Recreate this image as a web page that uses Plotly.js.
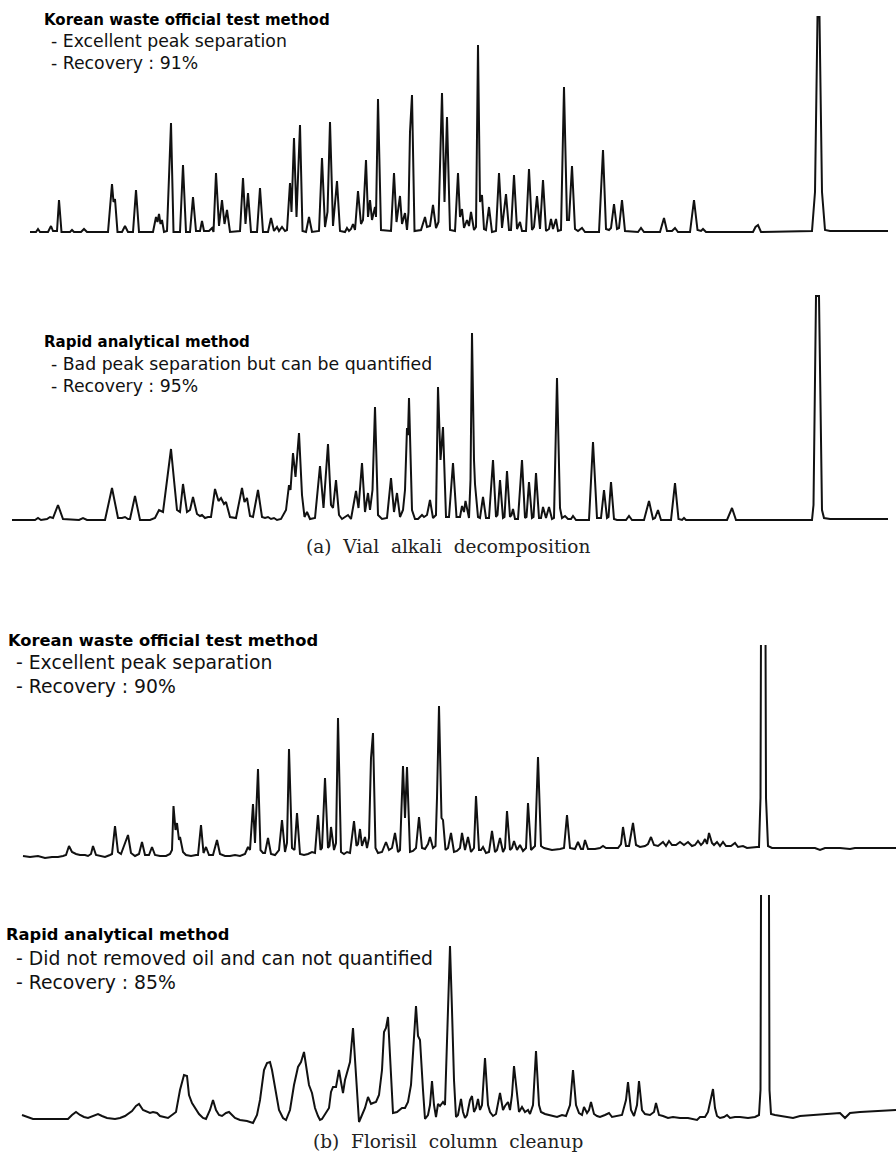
<!DOCTYPE html>
<html>
<head>
<meta charset="utf-8">
<script src="https://cdn.plot.ly/plotly-3.0.1.min.js"></script>
<style>html,body{margin:0;padding:0;background:#fff;}#chart{width:896px;height:1168px;}</style>
</head>
<body>
<div id="chart"></div>
<script>
// ---- (a) Vial alkali decomposition : Korean waste official test method ----
const rtA1 = [
  30,36,38,40,48,51,53,57,59,61.5,
  70,72,74,81,84,87,108,112,113.5,115,
  117.5,122,125,128,133,136,139,153,156,157.5,
  159,160.5,162,164,167,169.5,171,173.5,180,183,
  186,190,193,196,200,202,204,209,212,213.5,
  216,219,222,224.5,227,230,240,243,245.5,248,
  251,257,260,263,268,271,274,277,279,282,
  285,287,290,291.5,294,296.5,300,302.5,306,309,
  312,319,322,325,327.5,330,333,337,340,345,
  347,349,351,353,355,358,361,363,366,368,
  370,372,375,376,378,381,391,394,396.5,400,
  402,405,407,408.5,410,412,414.5,421,425,427,
  430,433,436,438.5,442,444.5,447,450,455,458,
  460,462,464,467,469,471,474,476,478,480,
  482,484,486,489,492,496,499,502,506,509,
  511,514,517,520,522,526,529,532,534,537,
  540,543,546,549,551,553,556,558,561,564,
  567,569,572,575,578,582,585,599,603,606,
  609,611,614,617,619,622,625,638,641,644,
  660,664,667,672,675,678,690,694,697.5,701,
  703,706,753,755.5,758,761,812,815,816.5,817.5,
  819.5,820.5,822,825,830,888
];
const sigA1 = [
  0,0,3,0,0,6,1,1,32,0,
  0,2,0,0,3,0,0,48,30,33,
  0,0,6,0,0,42,0,0,15,10,
  18,8,12,0,1,78,109,0,0,67,
  0,0,35,1,1,11,1,1,4,0,
  59,6,32,8,22,0,1,54,8,39,
  0,0,44,0,0,14,1,5,1,5,
  1,2,49,20,94,15,107,1,0,15,
  0,1,74,5,20,110,6,51,1,0,
  4,1,3,8,2,41,8,12,72,15,
  32,12,25,15,133,2,1,59,10,36,
  8,19,2,20,100,137,1,2,15,5,
  6,27,4,10,139,30,115,2,1,59,
  15,23,4,12,6,20,2,5,187,30,
  37,3,2,25,0,1,59,4,38,2,
  2,57,3,10,1,1,63,2,5,36,
  3,52,1,3,13,3,13,1,2,145,
  12,12,66,3,1,4,0,0,82,3,
  2,4,28,3,4,32,1,0,4,0,
  0,14,1,1,4,0,0,32,2,1,
  3,0,0,5,7,0,1,40,140,215,
  215,140,40,2,1,1
];

// ---- (a) Vial alkali decomposition : Rapid analytical method ----
const rtA2 = [
  12,35,38,41,47,50,53,58,63,79,
  83,87,105,112,118,122,125,128,130,135,
  140,150,155,159,163,167,171,174,177,180,
  183,187,190,193,197,200,202,205,208,211,
  215,218.5,221,224,226,230,236,242,244.5,247,
  250,253,258,262,265,268,271,274,277,281,
  286,289,290.5,293,295.5,299,302,304.5,307,310,
  315,320,323.5,328,331,333,336,339,342,345,
  348,351,356,358.5,362,365,368,370,372.5,375,
  378,382,387,391,394,397,400,403,405,407,
  408,409,412,415,418,422,424,427,430,433,
  436,438,440.5,443,446,449,453,456.5,460,462,
  464,465.5,469,470.5,472,474,475,478,480,483,
  486,489,493,496,497.5,500,503,504.5,507,510,
  511.5,513,515,518,522,525,526.5,529,532,533.5,
  536,539,541,543,546,549,552,554,557,560,
  562,565,568,571,573,576,589,593,597,601,
  604,607,608.5,611,614,617,626,629,632,644,
  649,653,655,658,661,671,675,678.5,682,684,
  686,727,732,736,812,813.5,816,819,820.5,822,
  824,830,888
];
const sigA2 = [
  0,0,2,0,1,3,2,15,1,0,
  2,0,0,32,2,2,3,1,1,24,
  0,0,2,10,8,40,71,40,10,8,
  36,8,10,23,6,4,5,2,3,3,
  31,19,22,16,18,3,2,32,18,22,
  4,3,30,3,2,3,1,2,0,1,
  10,35,30,67,43,87,25,3,8,1,
  2,54,12,76,15,12,40,5,1,3,
  5,1,29,12,57,8,27,10,30,113,
  5,1,2,42,8,27,3,10,30,92,
  85,122,10,1,1,5,3,5,20,2,
  5,133,60,93,3,3,57,3,3,14,
  8,19,2,40,187,60,36,3,2,23,
  2,2,60,3,5,40,2,3,49,3,
  5,11,1,1,60,2,3,38,2,3,
  47,2,2,13,2,13,1,2,142,12,
  2,4,1,1,4,0,0,78,2,2,
  30,2,3,38,1,0,0,4,0,0,
  19,1,2,10,0,0,37,1,0,2,
  0,0,12,0,0,15,224,224,100,10,
  2,1,1
];

// ---- (b) Florisil column cleanup : Korean waste official test method ----
const rtB1 = [
  23,30,38,45,52,58,63,66,69,72,
  76,80,85,88,91,93,96,100,105,110,
  112,115,118,121,125,128,131,135,139,142,
  145,149,152,155,160,166,170,172,173.5,175.5,
  177,179,180,183,186,191,196,198,201,203.5,
  206,209,213,217,220,225,230,235,240,245,
  248,250,253,255,258,260.5,263,265,268,271,
  275,279,282,285,287,289,292,294.5,297,300,
  304,308,312,315,318,320.5,322,325,328,329.5,
  331,334,336,338,341,344,347,350,354,356.5,
  358,360,362,365,367,369,371,373,375.5,378,
  382,386,389,392,395,398,400,403,405,407,
  410,413,416,419,422,425,428,430,433,435.5,
  437,439,441.5,443,445.5,448,451,454,457,460,
  462,465,468,471,474,476,479,481,483,486,
  489,492,495,497,500,503,505,507,510,512,
  514,517,520,523,526,528,531,533.5,535,538,
  541,544,552,560,564,567,570,575,578,581,
  583,585,588,595,600,603,606,612,618,621,
  623,626,629,633,636,640,645,648,651,654,
  658,663,666,669,672,676,680,684,688,692,
  695,698,701,703,705,707,709,712,714,717,
  720,723,726,731,735,738,743,747,753,757,
  759,760.5,761.5,765,766,768,772,780,800,815,
  820,825,840,850,855,870,896
];
const sigB1 = [
  2,1,2,0,1,1,2,3,12,6,
  4,3,3,2,4,12,3,2,1,3,
  4,32,6,4,14,23,5,2,4,16,
  3,3,11,3,2,2,4,8,52,28,
  35,18,21,6,3,2,3,3,33,5,
  11,3,3,18,4,2,2,3,2,4,
  11,8,54,15,89,8,5,5,20,4,
  3,8,38,6,15,109,10,8,45,4,
  3,4,6,5,43,8,10,80,10,12,
  31,8,15,140,6,4,6,5,37,12,
  14,29,12,21,10,20,100,125,10,5,
  6,16,8,10,25,6,8,92,40,91,
  6,7,10,41,10,9,14,21,10,12,
  60,152,40,38,8,10,25,6,7,10,
  25,8,21,6,10,62,8,8,11,5,
  6,27,6,8,20,6,10,47,8,10,
  17,8,13,7,10,55,8,10,12,101,
  12,10,8,9,10,43,10,9,16,9,
  9,18,9,9,10,12,10,10,10,14,
  31,12,12,35,13,11,12,14,21,13,
  12,16,12,17,13,13,16,13,16,12,
  13,17,13,15,19,14,25,15,13,16,
  12,16,12,12,15,11,12,10,11,11,
  11,60,400,400,60,12,10,10,10,10,
  8,10,10,9,10,10,10
];

// ---- (b) Florisil column cleanup : Rapid analytical method ----
const rtB2 = [
  22,27,33,45,55,62,68,72,76,80,
  84,88,93,98,102,107,115,120,125,128,
  132,136,139,143,147,150,153,157,160,164,
  168,172,176,180,184,187,189,192,195,199,
  203,206,210,213,216,219,222,226,229,232,
  235,240,247,253,257,260,264,267,270,272,
  276,279,283,286,290,294,298,301,304,306,
  309,312,315,318,320,322,326,329,331,333,
  336,339,341,343,345,348,350,353,356,359,
  362,365,368,371,373,376,379,382,384,386,
  388,390,393,397,402,405,408,411,414,416,
  418,420,423,425,428,430,432,434,436,438,
  440,443,445,447,450,452,454,456,458,461,
  463,465,467,470,472,474,476,478,480,482,
  485,488,490,493,496,500,503,505,508,510,
  512,514,517,519,522,525,528,530,533,536,
  539,541,545,550,557,562,566,570,573,576,
  579,582,584,587,589,591,594,597,600,605,
  609,612,617,622,626,628,631,634,637,639,
  642,645,650,654,656,659,663,668,673,680,
  688,693,697,700,705,708,711,713,715,717,
  720,724,727,730,735,740,748,755,759,760.5,
  761.5,768.5,769.5,771,775,785,793,800,815,830,
  840,845,850,860,880,896
];
const sigB2 = [
  5,3,1,1,1,1,1,5,8,5,
  3,2,4,6,4,2,1,2,4,6,
  9,14,16,10,8,7,8,7,4,3,
  2,5,8,30,45,44,25,17,12,6,
  2,1,10,20,10,5,4,7,8,5,
  2,0,-1,-3,5,20,50,57,58,50,
  25,10,2,0,10,35,53,58,68,55,
  35,27,12,4,0,1,8,12,28,33,
  33,50,38,27,40,50,58,92,40,-2,
  5,12,23,16,17,18,25,50,88,92,
  103,60,7,8,12,12,18,35,80,114,
  84,80,30,1,5,15,39,15,3,16,
  14,18,15,80,174,110,40,3,5,21,
  8,2,5,20,24,8,12,21,10,15,
  62,15,8,4,6,27,10,14,18,10,
  25,54,25,8,13,8,10,6,15,69,
  15,8,6,5,3,5,4,15,50,15,
  7,5,13,7,10,18,6,4,3,5,
  7,3,4,5,20,38,10,4,15,39,
  10,6,5,8,17,5,4,2,3,2,
  2,1,0,3,3,8,22,31,12,4,
  2,3,5,2,3,3,2,3,5,30,
  400,400,30,6,5,3,2,4,5,6,
  7,2,7,8,9,10
];

// ---- texts ----
const panelTitles = ["Korean waste official test method", "Rapid analytical method",
                     "Korean waste official test method", "Rapid analytical method"];
const panelNotes = [
  ["- Excellent peak separation", "- Recovery : 91%"],
  ["- Bad peak separation but can be quantified", "- Recovery : 95%"],
  ["- Excellent peak separation", "- Recovery : 90%"],
  ["- Did not removed oil and can not quantified", "- Recovery : 85%"]
];
const captions = ["(a)\u00a0 Vial\u00a0 alkali\u00a0 decomposition", "(b)\u00a0 Florisil\u00a0 column\u00a0 cleanup"];

// ---- layout (pixel geometry of the page) ----
const W = 896, H = 1168;
// each panel: [top px, bottom px, baseline px]
const panelBox = [[14, 240, 232], [292, 525, 520], [645, 862, 858], [895, 1128, 1120]];
// [title x, note x, title y, note1 y, note2 y, title size, note size]
const titlePos = [[42, 49, 20, 41, 63, 15, 17.3], [42, 49, 342, 364, 386, 15, 17.3],
                  [6, 14, 640, 662, 686, 16.3, 18.8], [4, 14, 934, 958, 982, 16.3, 18.8]];
const captionPos = [[448, 546], [448, 1141]];

const px = v => v / W;
const py = v => 1 - v / H;

const series = [[rtA1, sigA1], [rtA2, sigA2], [rtB1, sigB1], [rtB2, sigB2]];
const traces = series.map((s, i) => ({
  x: s[0], y: s[1], type: 'scatter', mode: 'lines',
  xaxis: 'x', yaxis: i === 0 ? 'y' : 'y' + (i + 1),
  line: {color: '#111', width: 2}, hoverinfo: 'skip'
}));

const layout = {
  width: W, height: H, margin: {l: 0, r: 0, t: 0, b: 0},
  paper_bgcolor: '#fff', plot_bgcolor: 'rgba(0,0,0,0)', showlegend: false,
  xaxis: {range: [0, W], visible: false, fixedrange: true, domain: [0, 1]},
  annotations: []
};
panelBox.forEach((b, i) => {
  const key = i === 0 ? 'yaxis' : 'yaxis' + (i + 1);
  layout[key] = {
    domain: [py(b[1]), py(b[0])],
    range: [b[2] - b[1], b[2] - b[0]],
    visible: false, fixedrange: true, showgrid: false, zeroline: false
  };
});
const sansFont = 'DejaVu Sans, Liberation Sans, sans-serif';
titlePos.forEach((p, i) => {
  layout.annotations.push({xref: 'paper', yref: 'paper', x: px(p[0]), y: py(p[2]), xanchor: 'left', yanchor: 'middle',
    text: '<b>' + panelTitles[i] + '</b>', showarrow: false, font: {family: sansFont, size: p[5], color: '#000'}});
  layout.annotations.push({xref: 'paper', yref: 'paper', x: px(p[1]), y: py(p[3]), xanchor: 'left', yanchor: 'middle',
    text: panelNotes[i][0], showarrow: false, font: {family: sansFont, size: p[6], color: '#111'}});
  layout.annotations.push({xref: 'paper', yref: 'paper', x: px(p[1]), y: py(p[4]), xanchor: 'left', yanchor: 'middle',
    text: panelNotes[i][1], showarrow: false, font: {family: sansFont, size: p[6], color: '#111'}});
});
captions.forEach((c, i) => {
  layout.annotations.push({xref: 'paper', yref: 'paper', x: px(captionPos[i][0]), y: py(captionPos[i][1]), xanchor: 'center', yanchor: 'middle',
    text: c, showarrow: false, font: {family: 'DejaVu Serif, Liberation Serif, serif', size: 18.5, color: '#222'}});
});

Plotly.newPlot('chart', traces, layout, {staticPlot: true, displayModeBar: false});
</script>
</body>
</html>
